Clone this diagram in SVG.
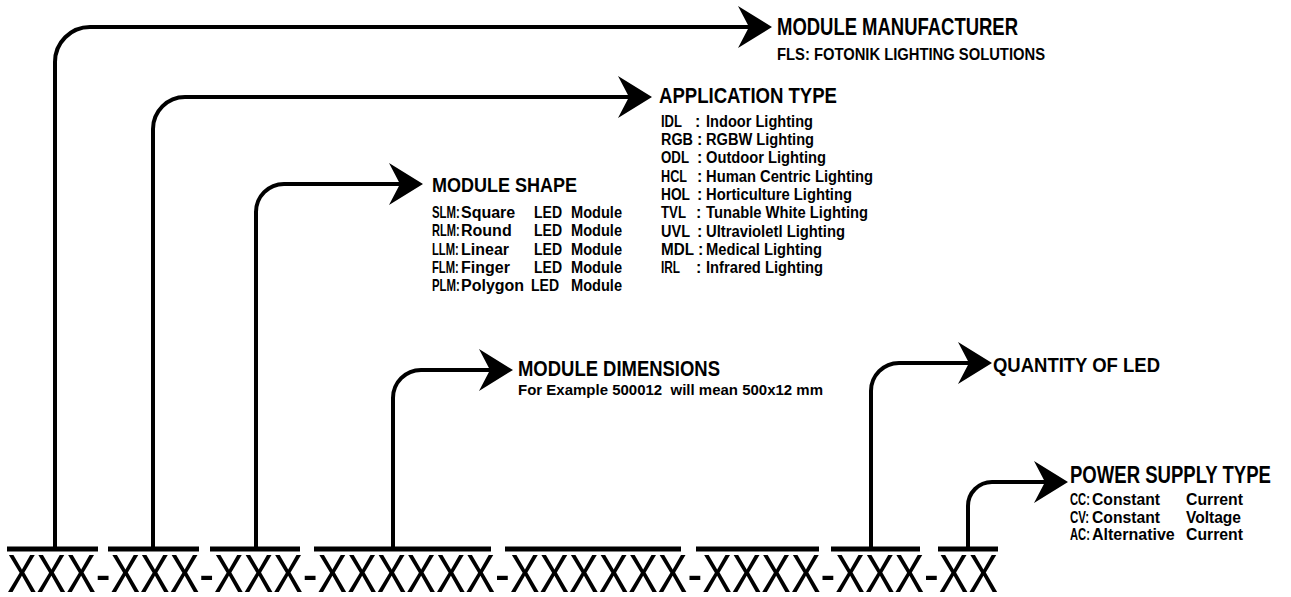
<svg xmlns="http://www.w3.org/2000/svg" width="1291" height="597" viewBox="0 0 1291 597">
<style>
.t{font-family:"Liberation Sans",Arial,sans-serif;font-weight:bold;fill:#000}
.s{font-size:16px}
.x{font-family:"Liberation Sans",Arial,sans-serif;font-size:54px;fill:#000}
.conn path{fill:none;stroke:#000;stroke-width:4}
.bar{stroke:#000;stroke-width:5}
</style>
<defs>
<marker id="ah" markerUnits="userSpaceOnUse" viewBox="0 0 40 46" markerWidth="40" markerHeight="46" refX="26" refY="21" orient="auto">
<path d="M0,0 L34,21 L0,42 L11,21 Z" fill="#000"/>
</marker>
</defs>
<rect width="1291" height="597" fill="#fff"/>

<g id="code">
<line class="bar" x1="7" y1="549" x2="98" y2="549"/>
<line class="bar" x1="108" y1="549" x2="199" y2="549"/>
<line class="bar" x1="210" y1="549" x2="300" y2="549"/>
<line class="bar" x1="314" y1="549" x2="491" y2="549"/>
<line class="bar" x1="505" y1="549" x2="681" y2="549"/>
<line class="bar" x1="696" y1="549" x2="819" y2="549"/>
<line class="bar" x1="831" y1="549" x2="920" y2="549"/>
<line class="bar" x1="938" y1="549" x2="998" y2="549"/>
<text class="x" x="7" y="592" textLength="991" lengthAdjust="spacingAndGlyphs">XXX-XXX-XXX-XXXXXX-XXXXXX-XXXX-XXX-XX</text>
</g>

<g class="conn" id="connectors">
<path d="M55,547 V62 A35,35 0 0 1 90,27 H764" marker-end="url(#ah)"/>
<path d="M153,547 V129 A32,32 0 0 1 185,97 H644" marker-end="url(#ah)"/>
<path d="M256,547 V212 A28,28 0 0 1 284,184 H415" marker-end="url(#ah)"/>
<path d="M393,547 V398 A28,28 0 0 1 421,370 H505" marker-end="url(#ah)"/>
<path d="M871,547 V391 A28,28 0 0 1 899,363 H984" marker-end="url(#ah)"/>
<path d="M968,547 V506 A24,24 0 0 1 992,482 H1060" marker-end="url(#ah)"/>
</g>

<g id="manufacturer">
<text class="t" font-size="24" x="777" y="35" textLength="241" lengthAdjust="spacingAndGlyphs">MODULE MANUFACTURER</text>
<text class="t" font-size="17" x="777" y="60" textLength="268" lengthAdjust="spacingAndGlyphs">FLS: FOTONIK LIGHTING SOLUTIONS</text>
</g>

<g id="application">
<text class="t" font-size="22" x="659" y="103" textLength="178" lengthAdjust="spacingAndGlyphs">APPLICATION TYPE</text>
<g class="t s">
<text x="661" y="126.7" textLength="21" lengthAdjust="spacingAndGlyphs">IDL</text><text x="695" y="126.7">:</text><text x="706" y="126.7" textLength="107" lengthAdjust="spacingAndGlyphs">Indoor Lighting</text>
<text x="661" y="145" textLength="32" lengthAdjust="spacingAndGlyphs">RGB</text><text x="697" y="145">:</text><text x="706" y="145" textLength="108" lengthAdjust="spacingAndGlyphs">RGBW Lighting</text>
<text x="661" y="163.3" textLength="28" lengthAdjust="spacingAndGlyphs">ODL</text><text x="697" y="163.3">:</text><text x="706" y="163.3" textLength="120" lengthAdjust="spacingAndGlyphs">Outdoor Lighting</text>
<text x="661" y="181.7" textLength="26" lengthAdjust="spacingAndGlyphs">HCL</text><text x="697" y="181.7">:</text><text x="706" y="181.7" textLength="167" lengthAdjust="spacingAndGlyphs">Human Centric Lighting</text>
<text x="661" y="200" textLength="29" lengthAdjust="spacingAndGlyphs">HOL</text><text x="697" y="200">:</text><text x="706" y="200" textLength="146" lengthAdjust="spacingAndGlyphs">Horticulture Lighting</text>
<text x="661" y="218.3" textLength="25" lengthAdjust="spacingAndGlyphs">TVL</text><text x="696" y="218.3">:</text><text x="706" y="218.3" textLength="162" lengthAdjust="spacingAndGlyphs">Tunable White Lighting</text>
<text x="661" y="236.7" textLength="29" lengthAdjust="spacingAndGlyphs">UVL</text><text x="697" y="236.7">:</text><text x="706" y="236.7" textLength="139" lengthAdjust="spacingAndGlyphs">Ultravioletl Lighting</text>
<text x="661" y="255" textLength="33" lengthAdjust="spacingAndGlyphs">MDL</text><text x="698" y="255">:</text><text x="706" y="255" textLength="116" lengthAdjust="spacingAndGlyphs">Medical Lighting</text>
<text x="661" y="273.3" textLength="19" lengthAdjust="spacingAndGlyphs">IRL</text><text x="696" y="273.3">:</text><text x="706" y="273.3" textLength="117" lengthAdjust="spacingAndGlyphs">Infrared Lighting</text>
</g>
</g>

<g id="shape">
<text class="t" font-size="21" x="432" y="192" textLength="145" lengthAdjust="spacingAndGlyphs">MODULE SHAPE</text>
<g class="t s">
<text transform="translate(432,218) scale(0.71,1)">SLM:</text><text x="461" y="218">Square</text><text x="534" y="218" textLength="28" lengthAdjust="spacingAndGlyphs">LED</text><text x="571" y="218" textLength="51" lengthAdjust="spacingAndGlyphs">Module</text>
<text transform="translate(432,236.3) scale(0.69,1)">RLM:</text><text x="461" y="236.3">Round</text><text x="534" y="236.3" textLength="28" lengthAdjust="spacingAndGlyphs">LED</text><text x="571" y="236.3" textLength="51" lengthAdjust="spacingAndGlyphs">Module</text>
<text transform="translate(432,254.6) scale(0.7,1)">LLM:</text><text x="461" y="254.6">Linear</text><text x="534" y="254.6" textLength="28" lengthAdjust="spacingAndGlyphs">LED</text><text x="571" y="254.6" textLength="51" lengthAdjust="spacingAndGlyphs">Module</text>
<text transform="translate(432,272.9) scale(0.7,1)">FLM:</text><text x="461" y="272.9">Finger</text><text x="534" y="272.9" textLength="28" lengthAdjust="spacingAndGlyphs">LED</text><text x="571" y="272.9" textLength="51" lengthAdjust="spacingAndGlyphs">Module</text>
<text transform="translate(432,291.2) scale(0.71,1)">PLM:</text><text x="461" y="291.2">Polygon</text><text x="531" y="291.2" textLength="28" lengthAdjust="spacingAndGlyphs">LED</text><text x="571" y="291.2" textLength="51" lengthAdjust="spacingAndGlyphs">Module</text>
</g>
</g>

<g id="dimensions">
<text class="t" font-size="22" x="518" y="376" textLength="202" lengthAdjust="spacingAndGlyphs">MODULE DIMENSIONS</text>
<text class="t" font-size="15" x="518" y="395" textLength="305" lengthAdjust="spacingAndGlyphs" xml:space="preserve">For Example 500012  will mean 500x12 mm</text>
</g>

<g id="quantity">
<text class="t" font-size="21" x="993" y="372" textLength="167" lengthAdjust="spacingAndGlyphs">QUANTITY OF LED</text>
</g>

<g id="power">
<text class="t" font-size="24" transform="translate(1070,483) scale(0.773,1)">POWER SUPPLY TYPE</text>
<g class="t s">
<text transform="translate(1070,505) scale(0.7,1)">CC:</text><text x="1092" y="505" textLength="68" lengthAdjust="spacingAndGlyphs">Constant</text><text x="1186" y="505" textLength="57" lengthAdjust="spacingAndGlyphs">Current</text>
<text transform="translate(1070,523) scale(0.72,1)">CV:</text><text x="1092" y="523" textLength="68" lengthAdjust="spacingAndGlyphs">Constant</text><text x="1186" y="523" textLength="55" lengthAdjust="spacingAndGlyphs">Voltage</text>
<text transform="translate(1070,540) scale(0.7,1)">AC:</text><text x="1092" y="540">Alternative</text><text x="1186" y="540" textLength="57" lengthAdjust="spacingAndGlyphs">Current</text>
</g>
</g>
</svg>
